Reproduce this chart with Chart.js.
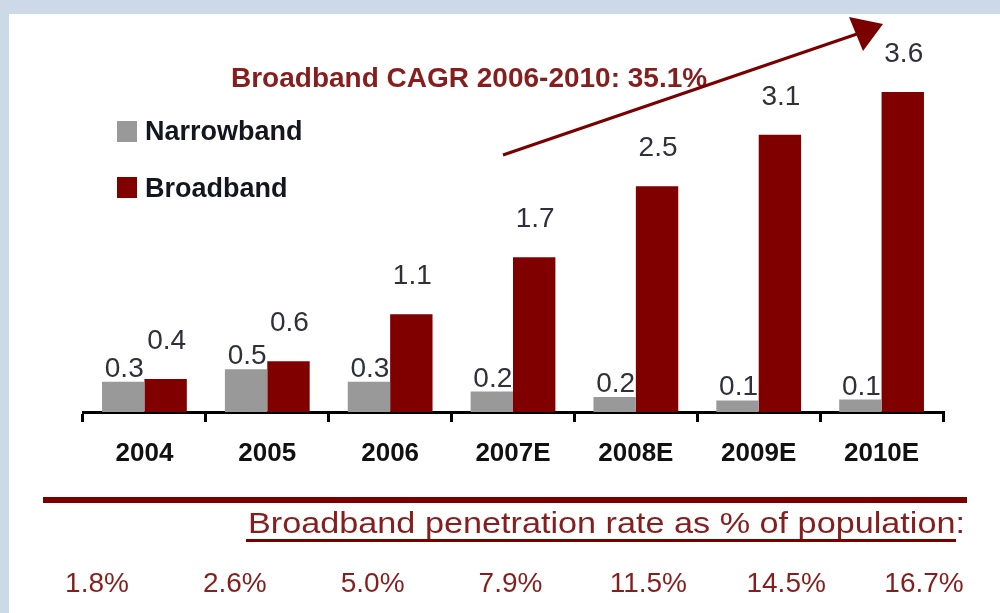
<!DOCTYPE html>
<html>
<head>
<meta charset="utf-8">
<script src="https://cdn.jsdelivr.net/npm/chart.js@4.4.1/dist/chart.umd.min.js"></script>
<style>
  html, body { margin: 0; padding: 0; background: #ccd9e7; width: 1000px; height: 613px; overflow: hidden; }
  #panel { position: absolute; left: 9px; top: 14px; width: 991px; height: 599px; background: #ffffff; }
  #c { position: absolute; left: 0; top: 0; }
</style>
</head>
<body>
<div id="panel"></div>
<canvas id="c" width="1000" height="613"></canvas>
<script>
// ---- data ----
const categories = ['2004', '2005', '2006', '2007E', '2008E', '2009E', '2010E'];
const narrowband = [0.34, 0.48, 0.34, 0.23, 0.17, 0.13, 0.14];
const broadband = [0.37, 0.57, 1.1, 1.74, 2.54, 3.12, 3.6];
const penetration = ['1.8%', '2.6%', '5.0%', '7.9%', '11.5%', '14.5%', '16.7%'];
const titleText = 'Broadband CAGR 2006-2010: 35.1%';
const subtitleText = 'Broadband penetration rate as % of population:';
const seriesNames = ['Narrowband', 'Broadband'];

const FONT = '"Liberation Sans", Arial, Helvetica, sans-serif';
const GRAY = '#999999';
const RED = '#800000';
const TEXTRED = '#861e1e';

const overlay = {
  id: 'overlay',
  afterDraw(chart) {
    const ctx = chart.ctx;
    ctx.save();

    // legend
    const legendColors = [GRAY, RED];
    const legendY = [121, 177];
    const legendBase = [140, 197];
    ctx.font = 'bold 27px ' + FONT;
    ctx.textBaseline = 'alphabetic';
    ctx.textAlign = 'left';
    for (let i = 0; i < 2; i++) {
      ctx.fillStyle = legendColors[i];
      ctx.fillRect(117, legendY[i], 20, 21);
      ctx.fillStyle = '#151520';
      ctx.fillText(seriesNames[i], 145, legendBase[i]);
    }

    // title
    ctx.font = 'bold 28px ' + FONT;
    ctx.fillStyle = TEXTRED;
    ctx.fillText(titleText, 231, 87);

    // arrow
    ctx.strokeStyle = '#7a0000';
    ctx.fillStyle = '#7a0000';
    ctx.lineWidth = 3;
    ctx.beginPath();
    ctx.moveTo(503, 155);
    ctx.lineTo(857, 34);
    ctx.stroke();
    ctx.beginPath();
    ctx.moveTo(883, 24);
    ctx.lineTo(849, 17);
    ctx.lineTo(863, 51);
    ctx.closePath();
    ctx.fill();

    // value labels
    const m0 = chart.getDatasetMeta(0);
    const m1 = chart.getDatasetMeta(1);
    ctx.font = '28px ' + FONT;
    ctx.fillStyle = '#30303c';
    ctx.textAlign = 'center';
    for (let i = 0; i < categories.length; i++) {
      const g = m0.data[i];
      const r = m1.data[i];
      ctx.save();
      ctx.beginPath();
      ctx.rect(0, 0, r.x - r.width / 2, 613);
      ctx.clip();
      ctx.fillText(narrowband[i].toFixed(1), g.x + 1, g.y - 5);
      ctx.restore();
      ctx.fillText(broadband[i].toFixed(1), r.x + 1, r.y - 30);
    }

    // bottom rule
    ctx.fillStyle = '#7a0000';
    ctx.fillRect(43, 497, 924, 6);

    // subtitle (underlined)
    ctx.font = '30px ' + FONT;
    ctx.textAlign = 'left';
    const w = ctx.measureText(subtitleText).width;
    const target = 717;
    const sx = target / w;
    ctx.save();
    ctx.translate(248, 533);
    ctx.scale(sx, 1);
    ctx.fillStyle = TEXTRED;
    ctx.fillText(subtitleText, 0, 0);
    ctx.restore();
    ctx.fillStyle = '#7a0000';
    ctx.fillRect(246, 539, 710, 3);

    // penetration values
    ctx.font = '28px ' + FONT;
    ctx.fillStyle = TEXTRED;
    ctx.textAlign = 'center';
    const x0 = 97, x1 = 924;
    for (let i = 0; i < penetration.length; i++) {
      const x = x0 + (x1 - x0) * i / (penetration.length - 1);
      ctx.fillText(penetration[i], x, 592);
    }

    ctx.restore();
  }
};

new Chart(document.getElementById('c'), {
  type: 'bar',
  data: {
    labels: categories,
    datasets: [
      { label: seriesNames[0], data: narrowband, backgroundColor: GRAY, categoryPercentage: 0.69, barPercentage: 1.0 },
      { label: seriesNames[1], data: broadband, backgroundColor: RED, categoryPercentage: 0.69, barPercentage: 1.0 }
    ]
  },
  options: {
    responsive: false,
    animation: false,
    layout: { padding: { left: 83, right: 57, top: 12, bottom: 0 } },
    plugins: { legend: { display: false }, tooltip: { enabled: false } },
    scales: {
      y: { display: false, min: 0, max: 4.5 },
      x: {
        afterFit(scale) { scale.height = 201; },
        border: { display: true, color: '#000', width: 3 },
        grid: { display: true, drawOnChartArea: false, drawTicks: true, tickLength: 10, color: '#000', lineWidth: 3, offset: true },
        ticks: { color: '#111', font: { family: FONT, size: 26, weight: 'bold' }, padding: 16 }
      }
    }
  },
  plugins: [overlay]
});
</script>
</body>
</html>
